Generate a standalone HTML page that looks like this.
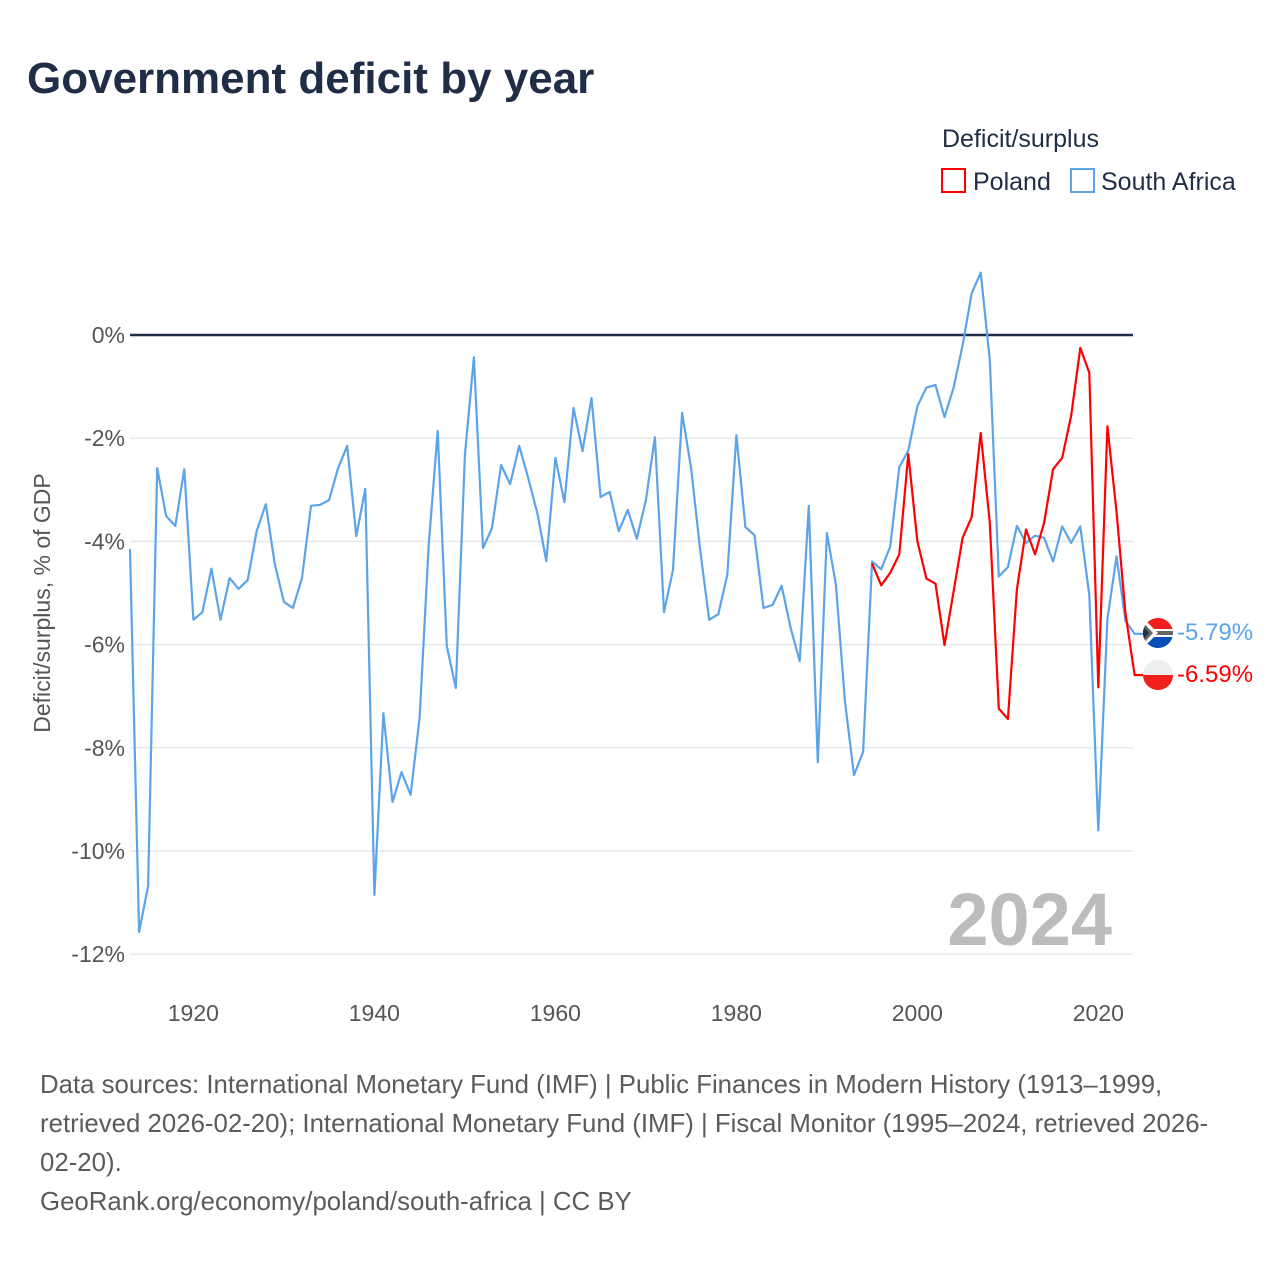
<!DOCTYPE html>
<html><head><meta charset="utf-8"><style>
body{margin:0;background:#fff;font-family:"Liberation Sans",sans-serif;}
#wrap{position:relative;width:1280px;height:1280px;overflow:hidden;}
</style></head><body>
<div id="wrap">
<svg id="chart" width="1280" height="1280">
<text x="27" y="93" font-size="44" font-weight="bold" fill="#1f2e46">Government deficit by year</text>
<text x="942" y="147" font-size="25" fill="#1f2e46">Deficit/surplus</text>
<g><rect x="942" y="169" width="23" height="23" fill="none" stroke="#ff0000" stroke-width="2"/><text x="973" y="190" font-size="25" fill="#1f2e46">Poland</text></g>
<g><rect x="1071" y="169" width="23" height="23" fill="none" stroke="#5ca4e9" stroke-width="2"/><text x="1101" y="190" font-size="25" fill="#1f2e46">South Africa</text></g>
<g id="grid"></g>
<g id="xt"></g>
<g id="series"></g>
<text x="1112" y="945" text-anchor="end" font-size="74" font-weight="bold" fill="#bcbcbc">2024</text>
<text transform="translate(50,603) rotate(-90)" text-anchor="middle" font-size="23" fill="#555">Deficit/surplus, % of GDP</text>
<g>
<clipPath id="c1"><circle cx="1158" cy="633" r="15"/></clipPath>
<g clip-path="url(#c1)"><rect x="1140" y="615" width="36" height="18" fill="#f21f1f"/><rect x="1140" y="633" width="36" height="18" fill="#0a4fb8"/><rect x="1140" y="629" width="36" height="8" fill="#fff"/><rect x="1140" y="631" width="36" height="4" fill="#666"/><polygon points="1140,615 1158,633 1140,651" fill="#fff"/><polygon points="1140,619 1153,633 1140,647" fill="#666"/><polygon points="1140,623 1149,633 1140,643" fill="#1f2e46"/></g></g>
<g>
<clipPath id="c2"><circle cx="1158" cy="675" r="15"/></clipPath>
<g clip-path="url(#c2)"><rect x="1140" y="657" width="36" height="18" fill="#eee"/><rect x="1140" y="675" width="36" height="18" fill="#f21f1f"/></g></g>
<text id="lblSA" x="1177" y="640" font-size="24" fill="#5ca4e9"></text>
<text id="lblPL" x="1177" y="682" font-size="24" fill="#ff0000"></text>
</svg>
<div style="position:absolute;left:40px;top:1066px;width:1200px;font-size:25.8px;line-height:39px;color:#5b5b5b;">Data sources: International Monetary Fund (IMF) | Public Finances in Modern History (1913–1999, retrieved 2026-02-20); International Monetary Fund (IMF) | Fiscal Monitor (1995–2024, retrieved 2026-<br>02-20).<br>GeoRank.org/economy/poland/south-africa | CC BY</div>
</div>
<script>
const yTicks=[0,-2,-4,-6,-8,-10,-12];
const xTicks=[1920,1940,1960,1980,2000,2020];
const saStart=1913;
const saValues=[-4.15,-11.57,-10.68,-2.58,-3.51,-3.70,-2.60,-5.52,-5.37,-4.53,-5.52,-4.71,-4.92,-4.75,-3.80,-3.28,-4.44,-5.17,-5.29,-4.71,-3.31,-3.29,-3.20,-2.58,-2.15,-3.90,-2.98,-10.85,-7.33,-9.05,-8.47,-8.91,-7.42,-4.07,-1.86,-6.03,-6.84,-2.33,-0.43,-4.13,-3.74,-2.52,-2.89,-2.15,-2.77,-3.45,-4.38,-2.38,-3.24,-1.41,-2.25,-1.22,-3.14,-3.04,-3.80,-3.39,-3.95,-3.20,-1.98,-5.37,-4.55,-1.51,-2.58,-4.17,-5.52,-5.41,-4.65,-1.94,-3.72,-3.88,-5.29,-5.23,-4.86,-5.68,-6.32,-3.31,-8.28,-3.84,-4.84,-7.11,-8.53,-8.08,-4.39,-4.54,-4.10,-2.56,-2.24,-1.38,-1.02,-0.97,-1.59,-1.02,-0.20,0.81,1.21,-0.48,-4.68,-4.50,-3.70,-4.03,-3.89,-3.93,-4.39,-3.71,-4.03,-3.71,-5.04,-9.60,-5.51,-4.29,-5.54,-5.79];
const plStart=1995;
const plValues=[-4.43,-4.85,-4.61,-4.25,-2.31,-4.00,-4.72,-4.82,-6.01,-4.97,-3.93,-3.53,-1.90,-3.64,-7.24,-7.44,-4.93,-3.77,-4.25,-3.64,-2.60,-2.38,-1.56,-0.25,-0.73,-6.83,-1.77,-3.42,-5.40,-6.59];
const NS="http://www.w3.org/2000/svg";
const X0=130,X1=1133;
function xs(yr){return 130+(yr-1913)*9.05;}
function ys(v){return 335-v*51.6;}
function mk(t,a,p){const e=document.createElementNS(NS,t);for(const k in a)e.setAttribute(k,a[k]);p.appendChild(e);return e;}
const grid=document.getElementById('grid');
yTicks.forEach(v=>{
 const l=mk('line',{x1:X0,x2:X1,y1:ys(v),y2:ys(v),stroke:v===0?'#1f2e46':'#e6e8ec','stroke-width':v===0?2.5:1.5},grid);
 
 
 const t=mk('text',{x:125,y:ys(v)+8,'text-anchor':'end','font-size':23,fill:'#555'},grid);
 t.textContent=v+'%';
 
 
});
const xt=document.getElementById('xt');
xTicks.forEach(yr=>{
 const t=mk('text',{x:xs(yr),y:1021,'text-anchor':'middle','font-size':23,fill:'#555'},xt);
 t.textContent=yr;
 
 
});
const ser=document.getElementById('series');
function line(start,vals,col,name){
 const pts=vals.map((v,i)=>xs(start+i).toFixed(1)+','+ys(v).toFixed(1));
 pts.push((xs(start+vals.length-1)+9).toFixed(1)+','+ys(vals[vals.length-1]).toFixed(1));
 const p=mk('polyline',{points:pts.join(' '),fill:'none',stroke:col,'stroke-width':2.2,'stroke-linejoin':'round'},ser);
 
 
}
line(saStart,saValues,'#5ca4e9','line-south-africa');
line(plStart,plValues,'#ff0000','line-poland');
document.getElementById('lblSA').textContent=saValues[saValues.length-1].toFixed(2)+'%';
document.getElementById('lblPL').textContent=plValues[plValues.length-1].toFixed(2)+'%';
</script>
</body></html>
